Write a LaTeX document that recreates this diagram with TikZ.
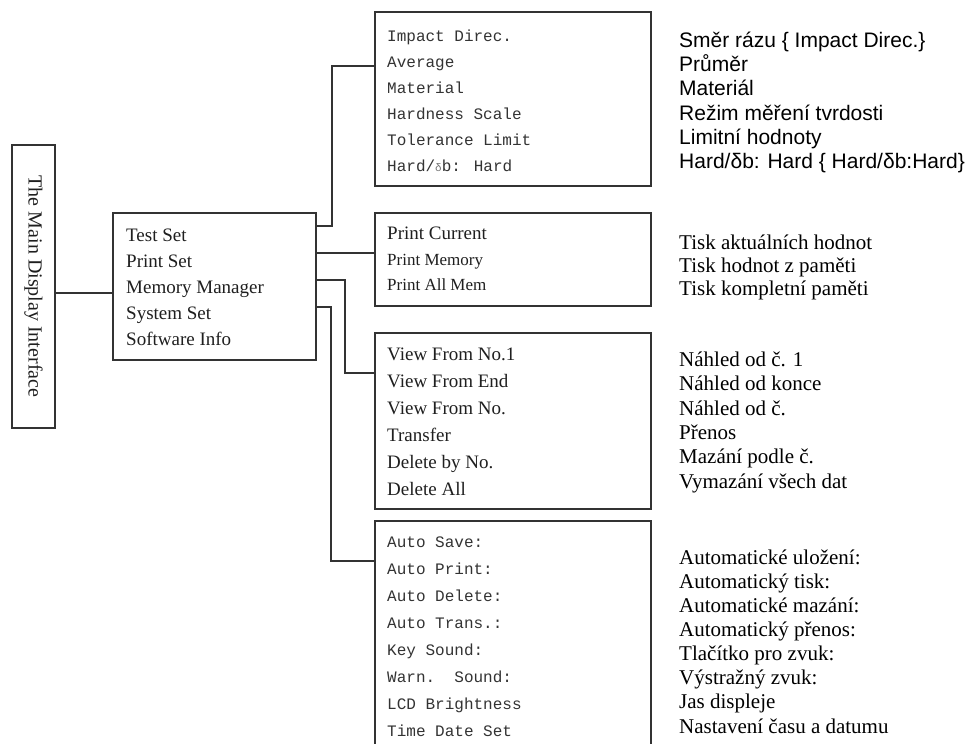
\documentclass[tikz,border=0pt]{standalone}
\usepackage{fontspec}
\setmainfont{Liberation Serif}
\newfontfamily\arialf{Liberation Sans}
\newfontfamily\monof{Liberation Mono}
\usepackage{graphicx}
\begin{document}
\begin{tikzpicture}[x=1pt,y=-1pt,
  box/.style={draw=black!80, line width=1.4pt, inner sep=0pt},
  conn/.style={draw=black!80, line width=1.4pt},
  lbl/.style={anchor=base west, inner sep=0pt, text=black!88},
  serifb/.style={lbl, font=\fontsize{19}{22}\selectfont},
  serifs/.style={lbl, font=\fontsize{17}{20}\selectfont},
  monot/.style={lbl, font=\monof\fontsize{16}{19}\selectfont, text=black!80},
  rsans/.style={anchor=base west, inner sep=0pt, font=\arialf\fontsize{21}{24}\selectfont},
  rserif/.style={anchor=base west, inner sep=0pt, font=\fontsize{21}{24}\selectfont}]
\useasboundingbox (0,0) rectangle (969,744);
\clip (0,0) rectangle (969,744);
\fill[white] (0,0) rectangle (969,744);

% boxes
\node[box, minimum width=43pt, minimum height=283pt] (main) at (33.5,286.5)
  {\rotatebox{-90}{\fontsize{20}{24}\selectfont\color{black!88}The Main Display Interface}};
\node[box, minimum width=203pt, minimum height=147pt] (menu) at (214.5,286.5) {};
\node[box, minimum width=276pt, minimum height=174pt] (test) at (513,99) {};
\node[box, minimum width=276pt, minimum height=93pt] (print) at (513,259.5) {};
\node[box, minimum width=276pt, minimum height=176pt] (memory) at (513,421) {};
\node[box, minimum width=276pt, minimum height=239pt] (system) at (513,640.5) {};

% connectors
\coordinate (y0) at (0,293);
\draw[conn] (main.east |- y0) -- (menu.west |- y0);
\coordinate (k1) at (332,226);
\coordinate (k1b) at (332,66);
\draw[conn] (menu.east |- k1) -- (k1) -- (k1b) -- (test.west |- k1b);
\coordinate (k2) at (0,253);
\draw[conn] (menu.east |- k2) -- (print.west |- k2);
\coordinate (k3) at (345,280);
\coordinate (k3b) at (345,373);
\draw[conn] (menu.east |- k3) -- (k3) -- (k3b) -- (memory.west |- k3b);
\coordinate (k4) at (331,307);
\coordinate (k4b) at (331,561);
\draw[conn] (menu.east |- k4) -- (k4) -- (k4b) -- (system.west |- k4b);

% menu texts
\foreach \t [count=\i] in {{Test Set},{Print Set},{Memory Manager},{System Set},{Software Info}}
  \node[serifb] (m\i) at (126,{236+26*(\i-1)+5.7}) {\t};

% test box
\foreach \t [count=\i] in {{Impact Direc.},{Average},{Material},{Hardness Scale},{Tolerance Limit},{Hard/{\fontsize{11}{11}\selectfont\color{black!55}δ}b: Hard}}
  \node[monot] (t\i) at (387,{37+26*(\i-1)+4.8}) {\t};

% print box
\node[serifb] (p1) at (387,{234+5.7}) {Print Current};
\node[serifs] (p2) at (387,{260+5.1}) {Print Memory};
\node[serifs] (p3) at (387,{285+5.1}) {Print All Mem};

% memory box
\foreach \t [count=\i] in {{View From No.1},{View From End},{View From No.},{Transfer},{Delete by No.},{Delete All}}
  \node[serifb] (v\i) at (387,{355+27*(\i-1)+5.7}) {\t};

% system box
\foreach \t [count=\i] in {{Auto Save:},{Auto Print:},{Auto Delete:},{Auto Trans.:},{Key Sound:},{Warn.\ \ Sound:},{LCD Brightness},{Time Date Set}}
  \node[monot] (s\i) at (387,{543+27*(\i-1)+4.8}) {\t};

% right column, group 1
\foreach \t [count=\i] in {{Směr rázu \{ Impact Direc.\}},{Průměr},{Materiál},{Režim měření tvrdosti},{Limitní hodnoty},{Hard/δb: Hard \{ Hard/δb:Hard\}}}
  \node[rsans] (a\i) at (679,{41+24.3*(\i-1)+6.3}) {\t};

% group 2
\foreach \t [count=\i] in {{Tisk aktuálních hodnot},{Tisk hodnot z paměti},{Tisk kompletní paměti}}
  \node[rserif] (b\i) at (679,{243+23*(\i-1)+6.3}) {\t};

% group 3
\foreach \t [count=\i] in {{Náhled od č. 1},{Náhled od konce},{Náhled od č.},{Přenos},{Mazání podle č.},{Vymazání všech dat}}
  \node[rserif] (c\i) at (679,{360+24.4*(\i-1)+6.3}) {\t};

% group 4
\foreach \t [count=\i] in {{Automatické uložení:},{Automatický tisk:},{Automatické mazání:},{Automatický přenos:},{Tlačítko pro zvuk:},{Výstražný zvuk:},{Jas displeje},{Nastavení času a datumu}}
  \node[rserif] (d\i) at (679,{558+24.1*(\i-1)+6.3}) {\t};
\end{tikzpicture}
\end{document}
